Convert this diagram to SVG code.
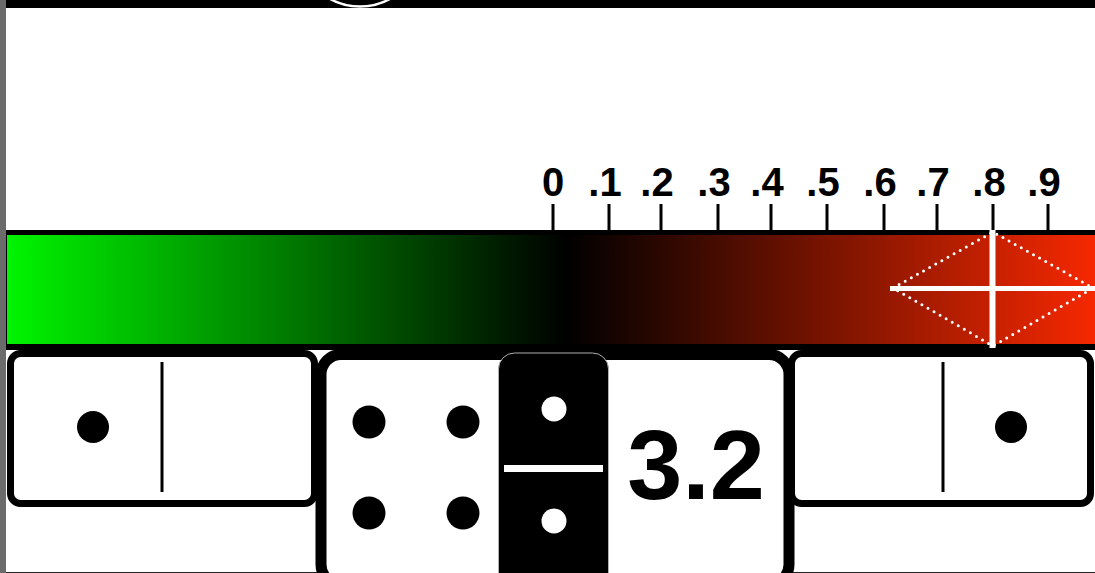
<svg xmlns="http://www.w3.org/2000/svg" width="1095" height="573" viewBox="0 0 1095 573">
  <style>
    .lbl { font-family: "Liberation Sans", Arial, sans-serif; font-weight: bold; font-size: 40px; fill: #000; text-anchor: middle; }
    .tick { stroke: #000; stroke-width: 3; }
    .pip { fill: #000; }
    .wpip { fill: #fff; }
    .tile { fill: #fff; stroke: #000; }
    .div { stroke: #000; stroke-width: 3; }
    .big { font-family: "Liberation Sans", Arial, sans-serif; font-weight: bold; font-size: 99px; fill: #000; text-anchor: middle; }
  </style>
  <defs>
    <linearGradient id="grad" gradientUnits="userSpaceOnUse" x1="6" y1="0" x2="1095" y2="0">
      <stop offset="0" stop-color="#00f500"/>
      <stop offset="0.515" stop-color="#000000"/>
      <stop offset="1" stop-color="#f62800"/>
    </linearGradient>
  </defs>
  <rect x="0" y="0" width="1095" height="573" fill="#fff"/>

  <g id="frame">
    <rect x="0" y="0" width="6" height="573" fill="#6b6b6b"/>
    <rect x="6" y="0" width="1089" height="8" fill="#000"/>
    <circle cx="360" cy="-55" r="61.5" fill="none" stroke="#fff" stroke-width="2.5"/>
    <line x1="6" y1="572.5" x2="1095" y2="572.5" stroke="#222" stroke-width="1"/>
  </g>

  <g id="scale">
    <line class="tick" x1="553" y1="204" x2="553" y2="232"/>
    <line class="tick" x1="609" y1="204" x2="609" y2="232"/>
    <line class="tick" x1="661" y1="204" x2="661" y2="232"/>
    <line class="tick" x1="718" y1="204" x2="718" y2="232"/>
    <line class="tick" x1="771" y1="204" x2="771" y2="232"/>
    <line class="tick" x1="827" y1="204" x2="827" y2="232"/>
    <line class="tick" x1="884" y1="204" x2="884" y2="232"/>
    <line class="tick" x1="937" y1="204" x2="937" y2="232"/>
    <line class="tick" x1="993" y1="204" x2="993" y2="232"/>
    <line class="tick" x1="1048" y1="204" x2="1048" y2="232"/>
    <text class="lbl" x="553" y="196">0</text>
    <text class="lbl" x="605" y="196">.1</text>
    <text class="lbl" x="657" y="196">.2</text>
    <text class="lbl" x="714" y="196">.3</text>
    <text class="lbl" x="767" y="196">.4</text>
    <text class="lbl" x="823" y="196">.5</text>
    <text class="lbl" x="880" y="196">.6</text>
    <text class="lbl" x="933" y="196">.7</text>
    <text class="lbl" x="989" y="196">.8</text>
    <text class="lbl" x="1044" y="196">.9</text>
  </g>

  <g id="gradient-bar">
    <rect x="6" y="230" width="1089" height="120" fill="#000"/>
    <rect x="7" y="235" width="1088" height="109" fill="url(#grad)"/>
  </g>

  <g id="domino-left">
    <rect class="tile" x="10.5" y="353.5" width="304" height="150" rx="10" stroke-width="7"/>
    <line class="div" x1="162" y1="362" x2="162" y2="492"/>
    <circle class="pip" cx="93" cy="427" r="16"/>
  </g>

  <g id="domino-right">
    <rect class="tile" x="791.5" y="353.5" width="299" height="150" rx="10" stroke-width="7"/>
    <line class="div" x1="943" y1="362" x2="943" y2="492"/>
    <circle class="pip" cx="1011" cy="427" r="16"/>
  </g>

  <g id="domino-middle">
    <rect class="tile" x="321" y="354.5" width="468" height="230" rx="20" stroke-width="11"/>
    <circle class="pip" cx="369" cy="422" r="16.5"/>
    <circle class="pip" cx="463" cy="422" r="16.5"/>
    <circle class="pip" cx="369" cy="513" r="16.5"/>
    <circle class="pip" cx="463" cy="513" r="16.5"/>
    <rect x="498.5" y="353" width="110" height="240" rx="16" fill="#000" stroke="#b0b0b0" stroke-width="1"/>
    <rect x="504" y="465" width="99" height="7" fill="#fff"/>
    <circle class="wpip" cx="554" cy="409" r="12.5"/>
    <circle class="wpip" cx="554" cy="521" r="12.5"/>
    <text class="big" x="696" y="499">3.2</text>
  </g>

  <g id="marker">
    <polygon points="893,288 993,232 1093,288 993,346" fill="none" stroke="#fff" stroke-width="3" stroke-linecap="round" stroke-dasharray="0 7"/>
    <line x1="890" y1="288.5" x2="1095" y2="288.5" stroke="#fff" stroke-width="5"/>
    <line x1="992.5" y1="230" x2="992.5" y2="348" stroke="#fff" stroke-width="6"/>
  </g>
</svg>
